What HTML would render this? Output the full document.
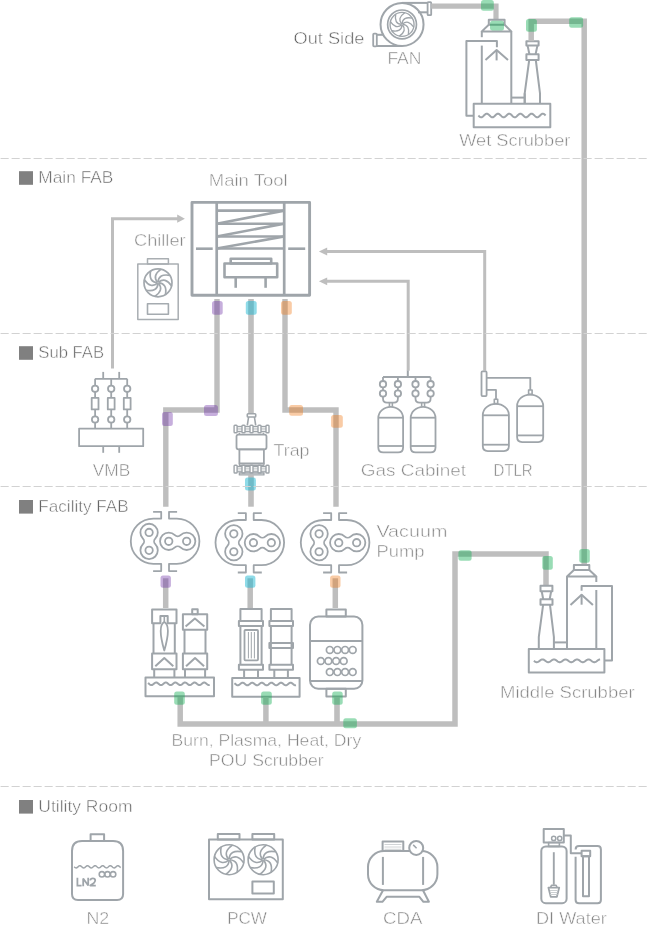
<!DOCTYPE html>
<html><head><meta charset="utf-8"><style>
html,body{margin:0;padding:0;background:#fff;}
svg{display:block;will-change:transform;}
text{font-family:"Liberation Sans", sans-serif;}
</style></head><body>
<svg width="649" height="938" viewBox="0 0 649 938">
<rect width="649" height="938" fill="#ffffff"/>
<rect x="19" y="171.2" width="14" height="13.6" fill="#808080"/>
<text x="38.3" y="183.2" font-size="17" fill="#666666" stroke="#ffffff" stroke-width="0.5" textLength="75.1" lengthAdjust="spacingAndGlyphs">Main FAB</text>
<rect x="19" y="346.2" width="14" height="13.6" fill="#808080"/>
<text x="38.3" y="358.2" font-size="17" fill="#666666" stroke="#ffffff" stroke-width="0.5" textLength="65.8" lengthAdjust="spacingAndGlyphs">Sub FAB</text>
<rect x="19" y="500" width="14" height="13.6" fill="#808080"/>
<text x="38.3" y="512" font-size="17" fill="#666666" stroke="#ffffff" stroke-width="0.5" textLength="90.4" lengthAdjust="spacingAndGlyphs">Facility FAB</text>
<rect x="19" y="800" width="14" height="13.6" fill="#808080"/>
<text x="38.3" y="812" font-size="17" fill="#666666" stroke="#ffffff" stroke-width="0.5" textLength="94.2" lengthAdjust="spacingAndGlyphs">Utility Room</text>
<text x="293.6" y="43.6" font-size="17" fill="#5e5e5e" stroke="#ffffff" stroke-width="0.5" textLength="70.8" lengthAdjust="spacingAndGlyphs">Out Side</text>
<circle cx="402.05" cy="24.4" r="21.5" fill="none" stroke="#9fa5aa" stroke-width="2"/>
<circle cx="402.05" cy="24.4" r="14.4" fill="none" stroke="#9fa5aa" stroke-width="1.7"/>
<circle cx="402.05" cy="24.4" r="12" fill="none" stroke="#9fa5aa" stroke-width="1.35"/>
<path d="M402.53,24.4 Q410.19,24.97 408.41,34.58" fill="none" stroke="#9fa5aa" stroke-width="1.35" stroke-linejoin="round"/>
<path d="M402.39,24.74 Q407.4,30.56 399.35,36.09" fill="none" stroke="#9fa5aa" stroke-width="1.35" stroke-linejoin="round"/>
<path d="M402.05,24.88 Q401.48,32.54 391.87,30.76" fill="none" stroke="#9fa5aa" stroke-width="1.35" stroke-linejoin="round"/>
<path d="M401.71,24.74 Q395.89,29.75 390.36,21.7" fill="none" stroke="#9fa5aa" stroke-width="1.35" stroke-linejoin="round"/>
<path d="M401.57,24.4 Q393.91,23.83 395.69,14.22" fill="none" stroke="#9fa5aa" stroke-width="1.35" stroke-linejoin="round"/>
<path d="M401.71,24.06 Q396.7,18.24 404.75,12.71" fill="none" stroke="#9fa5aa" stroke-width="1.35" stroke-linejoin="round"/>
<path d="M402.05,23.92 Q402.62,16.26 412.23,18.04" fill="none" stroke="#9fa5aa" stroke-width="1.35" stroke-linejoin="round"/>
<path d="M402.39,24.06 Q408.21,19.05 413.74,27.1" fill="none" stroke="#9fa5aa" stroke-width="1.35" stroke-linejoin="round"/>
<path d="M402,2.9 H428" fill="none" stroke="#9fa5aa" stroke-width="2" stroke-linejoin="round"/>
<path d="M418,12.3 H428" fill="none" stroke="#9fa5aa" stroke-width="2" stroke-linejoin="round"/>
<rect x="427.6" y="2.2" width="3.6" height="13" rx="0.8" fill="none" stroke="#9fa5aa" stroke-width="1.8" stroke-linejoin="round"/>
<path d="M376.8,46 H402" fill="none" stroke="#9fa5aa" stroke-width="2" stroke-linejoin="round"/>
<path d="M376.8,34.8 H384" fill="none" stroke="#9fa5aa" stroke-width="2" stroke-linejoin="round"/>
<rect x="373.2" y="33.6" width="3.6" height="12.8" rx="0.8" fill="none" stroke="#9fa5aa" stroke-width="1.8" stroke-linejoin="round"/>
<text x="387.4" y="63.8" font-size="17" fill="#858585" stroke="#ffffff" stroke-width="0.5" textLength="34" lengthAdjust="spacingAndGlyphs">FAN</text>
<path d="M431.2,6.2 L496,6.2 L496,19.8" fill="none" stroke="#bebebe" stroke-width="5.2" stroke-linejoin="miter" stroke-linecap="butt"/>
<rect x="488.8" y="19.7" width="15.8" height="5" rx="0" fill="none" stroke="#9fa5aa" stroke-width="2" stroke-linejoin="round"/>
<path d="M488.8,24.7 L481.8,31.4 L511.3,31.4 L504.6,24.7" fill="none" stroke="#9fa5aa" stroke-width="2" stroke-linejoin="round"/>
<line x1="481.8" y1="31.4" x2="481.8" y2="37.2" stroke="#9fa5aa" stroke-width="2"/>
<line x1="481.8" y1="45.6" x2="481.8" y2="103.8" stroke="#9fa5aa" stroke-width="2"/>
<line x1="511.3" y1="31.4" x2="511.3" y2="103.8" stroke="#9fa5aa" stroke-width="2"/>
<path d="M496.9,47.2 L496.9,41 L466.4,41 L466.4,115.7 L473.7,115.7" fill="none" stroke="#9fa5aa" stroke-width="2" stroke-linejoin="round"/>
<path d="M485.5,60 L496.6,50 L508,60" fill="none" stroke="#9fa5aa" stroke-width="2" stroke-linejoin="round"/>
<line x1="496.6" y1="50" x2="496.6" y2="60.4" stroke="#9fa5aa" stroke-width="2"/>
<rect x="473.7" y="103.8" width="76.6" height="23.4" rx="0" fill="none" stroke="#9fa5aa" stroke-width="2" stroke-linejoin="round"/>
<path d="M478.4,115.5 L478.9,116 L479.4,116.46 L479.9,116.85 L480.41,117.12 L480.91,117.28 L481.41,117.29 L481.91,117.16 L482.41,116.9 L482.91,116.53 L483.41,116.08 L483.92,115.58 L484.42,115.08 L484.92,114.61 L485.42,114.21 L485.92,113.91 L486.42,113.74 L486.93,113.7 L487.43,113.81 L487.93,114.05 L488.43,114.4 L488.93,114.84 L489.43,115.33 L489.93,115.84 L490.44,116.31 L490.94,116.73 L491.44,117.04 L491.94,117.24 L492.44,117.3 L492.94,117.22 L493.44,117 L493.95,116.66 L494.45,116.24 L494.95,115.75 L495.45,115.25 L495.95,114.76 L496.45,114.34 L496.96,114 L497.46,113.78 L497.96,113.7 L498.46,113.76 L498.96,113.96 L499.46,114.27 L499.96,114.69 L500.47,115.16 L500.97,115.67 L501.47,116.16 L501.97,116.6 L502.47,116.95 L502.97,117.19 L503.47,117.3 L503.98,117.26 L504.48,117.09 L504.98,116.79 L505.48,116.39 L505.98,115.92 L506.48,115.42 L506.99,114.92 L507.49,114.47 L507.99,114.1 L508.49,113.84 L508.99,113.71 L509.49,113.72 L509.99,113.88 L510.5,114.15 L511,114.54 L511.5,115 L512,115.5 L512.5,116 L513,116.46 L513.5,116.85 L514.01,117.12 L514.51,117.28 L515.01,117.29 L515.51,117.16 L516.01,116.9 L516.51,116.53 L517.01,116.08 L517.52,115.58 L518.02,115.08 L518.52,114.61 L519.02,114.21 L519.52,113.91 L520.02,113.74 L520.53,113.7 L521.03,113.81 L521.53,114.05 L522.03,114.4 L522.53,114.84 L523.03,115.33 L523.53,115.84 L524.04,116.31 L524.54,116.73 L525.04,117.04 L525.54,117.24 L526.04,117.3 L526.54,117.22 L527.04,117 L527.55,116.66 L528.05,116.24 L528.55,115.75 L529.05,115.25 L529.55,114.76 L530.05,114.34 L530.56,114 L531.06,113.78 L531.56,113.7 L532.06,113.76 L532.56,113.96 L533.06,114.27 L533.56,114.69 L534.07,115.16 L534.57,115.67 L535.07,116.16 L535.57,116.6 L536.07,116.95 L536.57,117.19 L537.07,117.3 L537.58,117.26 L538.08,117.09 L538.58,116.79 L539.08,116.39 L539.58,115.92 L540.08,115.42 L540.59,114.92 L541.09,114.47 L541.59,114.1 L542.09,113.84 L542.59,113.71 L543.09,113.72 L543.59,113.88 L544.1,114.15 L544.6,114.54 L545.1,115 L545.6,115.5" fill="none" stroke="#9fa5aa" stroke-width="2" stroke-linejoin="round"/>
<path d="M511.3,97.6 L524.7,97.6" fill="none" stroke="#9fa5aa" stroke-width="2" stroke-linejoin="round"/>
<line x1="524.7" y1="93.3" x2="524.7" y2="103.8" stroke="#9fa5aa" stroke-width="2"/>
<rect x="526.4" y="41.3" width="12.2" height="4.3" rx="0" fill="none" stroke="#9fa5aa" stroke-width="2" stroke-linejoin="round"/>
<line x1="527.6" y1="45.6" x2="529.4" y2="54.3" stroke="#9fa5aa" stroke-width="2"/>
<line x1="537.4" y1="45.6" x2="535.6" y2="54.3" stroke="#9fa5aa" stroke-width="2"/>
<rect x="526.4" y="54.3" width="12.2" height="5.7" rx="0" fill="none" stroke="#9fa5aa" stroke-width="2" stroke-linejoin="round"/>
<path d="M529.2,60 L524.7,93.3 L524.7,103.8" fill="none" stroke="#9fa5aa" stroke-width="2" stroke-linejoin="round"/>
<path d="M535.8,60 L540,93.3 L540,103.8" fill="none" stroke="#9fa5aa" stroke-width="2" stroke-linejoin="round"/>
<text x="459.2" y="145.6" font-size="17" fill="#858585" stroke="#ffffff" stroke-width="0.5" textLength="111.2" lengthAdjust="spacingAndGlyphs">Wet Scrubber</text>
<path d="M531.2,41.3 L531.2,21.2 L584.2,21.2 L584.2,565" fill="none" stroke="#bebebe" stroke-width="5.5" stroke-linejoin="miter" stroke-linecap="butt"/>
<rect x="481" y="0" width="12.8" height="10.8" rx="2.5" fill="#13ae54" fill-opacity="0.43"/>
<rect x="490" y="20.7" width="14" height="9.9" rx="2.5" fill="#13ae54" fill-opacity="0.43"/>
<rect x="526" y="19.1" width="10.9" height="12.7" rx="2.5" fill="#13ae54" fill-opacity="0.43"/>
<rect x="569.2" y="17.3" width="13.9" height="10.4" rx="2.5" fill="#13ae54" fill-opacity="0.43"/>
<text x="208.8" y="185.9" font-size="17" fill="#858585" stroke="#ffffff" stroke-width="0.5" textLength="78.8" lengthAdjust="spacingAndGlyphs">Main Tool</text>
<rect x="192" y="202.4" width="117.6" height="92.9" rx="0" fill="none" stroke="#9fa5aa" stroke-width="2.9" stroke-linejoin="round"/>
<line x1="216.7" y1="202.4" x2="216.7" y2="295.3" stroke="#9fa5aa" stroke-width="2.7"/>
<line x1="284.2" y1="202.4" x2="284.2" y2="295.3" stroke="#9fa5aa" stroke-width="2.7"/>
<line x1="216.7" y1="210.6" x2="284.2" y2="210.6" stroke="#9fa5aa" stroke-width="2.6"/>
<line x1="216.7" y1="223.7" x2="284.2" y2="223.7" stroke="#9fa5aa" stroke-width="2.6"/>
<line x1="216.7" y1="236.5" x2="284.2" y2="236.5" stroke="#9fa5aa" stroke-width="2.6"/>
<line x1="216.7" y1="248.5" x2="284.2" y2="248.5" stroke="#9fa5aa" stroke-width="2.6"/>
<line x1="216.7" y1="223.7" x2="284.2" y2="210.6" stroke="#9fa5aa" stroke-width="2.6"/>
<line x1="216.7" y1="236.5" x2="284.2" y2="223.7" stroke="#9fa5aa" stroke-width="2.6"/>
<line x1="216.7" y1="248.5" x2="284.2" y2="236.5" stroke="#9fa5aa" stroke-width="2.6"/>
<line x1="196" y1="248.7" x2="212.7" y2="248.7" stroke="#9fa5aa" stroke-width="2.6"/>
<line x1="288.2" y1="248.7" x2="305.2" y2="248.7" stroke="#9fa5aa" stroke-width="2.6"/>
<rect x="230.7" y="258.7" width="40.5" height="4.8" rx="0" fill="none" stroke="#9fa5aa" stroke-width="2.6" stroke-linejoin="round"/>
<rect x="224.5" y="263.5" width="52.7" height="13.7" rx="0" fill="none" stroke="#9fa5aa" stroke-width="2.6" stroke-linejoin="round"/>
<line x1="235.7" y1="277.2" x2="235.7" y2="287.8" stroke="#9fa5aa" stroke-width="2.6"/>
<line x1="265.6" y1="277.2" x2="265.6" y2="287.8" stroke="#9fa5aa" stroke-width="2.6"/>
<path d="M112.5,368.4 L112.5,218.7 L179,218.7" fill="none" stroke="#bebebe" stroke-width="3" stroke-linejoin="miter" stroke-linecap="butt"/>
<path d="M184.9,218.7 L177.2,214.6 L177.2,222.8Z" fill="#bebebe" stroke="#bebebe" stroke-width="0" stroke-linejoin="round"/>
<text x="134" y="245.7" font-size="17" fill="#858585" stroke="#ffffff" stroke-width="0.5" textLength="51.6" lengthAdjust="spacingAndGlyphs">Chiller</text>
<rect x="137.8" y="264.1" width="40.4" height="55.5" rx="0" fill="none" stroke="#a9aeb2" stroke-width="1.5" stroke-linejoin="round"/>
<rect x="147.5" y="258.8" width="20.9" height="5.3" rx="0" fill="none" stroke="#a9aeb2" stroke-width="1.5" stroke-linejoin="round"/>
<circle cx="158" cy="282.8" r="14" fill="none" stroke="#a2a8ad" stroke-width="1.7"/>
<path d="M158.56,282.8 Q167.5,283.46 165.42,294.67" fill="none" stroke="#a2a8ad" stroke-width="1.7" stroke-linejoin="round"/>
<path d="M158.4,283.2 Q164.25,289.98 154.85,296.44" fill="none" stroke="#a2a8ad" stroke-width="1.7" stroke-linejoin="round"/>
<path d="M158,283.36 Q157.34,292.3 146.13,290.22" fill="none" stroke="#a2a8ad" stroke-width="1.7" stroke-linejoin="round"/>
<path d="M157.6,283.2 Q150.82,289.05 144.36,279.65" fill="none" stroke="#a2a8ad" stroke-width="1.7" stroke-linejoin="round"/>
<path d="M157.44,282.8 Q148.5,282.14 150.58,270.93" fill="none" stroke="#a2a8ad" stroke-width="1.7" stroke-linejoin="round"/>
<path d="M157.6,282.4 Q151.75,275.62 161.15,269.16" fill="none" stroke="#a2a8ad" stroke-width="1.7" stroke-linejoin="round"/>
<path d="M158,282.24 Q158.66,273.3 169.87,275.38" fill="none" stroke="#a2a8ad" stroke-width="1.7" stroke-linejoin="round"/>
<path d="M158.4,282.4 Q165.18,276.55 171.64,285.95" fill="none" stroke="#a2a8ad" stroke-width="1.7" stroke-linejoin="round"/>
<rect x="147.5" y="303.7" width="20.9" height="10.5" rx="0" fill="none" stroke="#a5abb0" stroke-width="1.6" stroke-linejoin="round"/>
<path d="M326,251.5 L484.7,251.5 L484.7,370.7" fill="none" stroke="#bebebe" stroke-width="3" stroke-linejoin="miter" stroke-linecap="butt"/>
<path d="M318.9,251.5 L327.2,247.6 L327.2,255.4Z" fill="#bebebe" stroke="#bebebe" stroke-width="0" stroke-linejoin="round"/>
<path d="M326,281.3 L408.2,281.3 L408.2,370.7" fill="none" stroke="#bebebe" stroke-width="3" stroke-linejoin="miter" stroke-linecap="butt"/>
<path d="M318.9,281.3 L327.2,277.4 L327.2,285.2Z" fill="#bebebe" stroke="#bebebe" stroke-width="0" stroke-linejoin="round"/>
<path d="M217,299 L217,410 L165.8,410 L165.8,506.7" fill="none" stroke="#bebebe" stroke-width="5.4" stroke-linejoin="miter" stroke-linecap="butt"/>
<path d="M251,299 L251,414" fill="none" stroke="#bebebe" stroke-width="5.6" stroke-linejoin="miter" stroke-linecap="butt"/>
<path d="M285,299 L285,410 L336,410 L336,506.7" fill="none" stroke="#bebebe" stroke-width="5.4" stroke-linejoin="miter" stroke-linecap="butt"/>
<rect x="212" y="300.9" width="10.7" height="13.8" rx="2.5" fill="#692aa3" fill-opacity="0.38"/>
<rect x="245.8" y="300.9" width="10.9" height="13.8" rx="2.5" fill="#1fb7d1" fill-opacity="0.5"/>
<rect x="281" y="300.9" width="10.8" height="13.8" rx="2.5" fill="#ef7612" fill-opacity="0.38"/>
<rect x="204" y="404.9" width="13.9" height="11.1" rx="2.5" fill="#692aa3" fill-opacity="0.38"/>
<rect x="162" y="412" width="10.8" height="13.9" rx="2.5" fill="#692aa3" fill-opacity="0.38"/>
<rect x="289.2" y="405.1" width="13.8" height="10.6" rx="2.5" fill="#ef7612" fill-opacity="0.38"/>
<rect x="331.1" y="415" width="11.7" height="12.7" rx="2.5" fill="#ef7612" fill-opacity="0.38"/>
<line x1="103.2" y1="371.9" x2="103.2" y2="378.8" stroke="#9fa5aa" stroke-width="1.8"/>
<line x1="103.2" y1="446.2" x2="103.2" y2="452.8" stroke="#9fa5aa" stroke-width="1.8"/>
<line x1="119.2" y1="371.9" x2="119.2" y2="378.8" stroke="#9fa5aa" stroke-width="1.8"/>
<line x1="119.2" y1="446.2" x2="119.2" y2="452.8" stroke="#9fa5aa" stroke-width="1.8"/>
<line x1="95.1" y1="378.8" x2="127.2" y2="378.8" stroke="#9fa5aa" stroke-width="1.8"/>
<line x1="95.1" y1="378.8" x2="95.1" y2="385.6" stroke="#9fa5aa" stroke-width="1.8"/>
<circle cx="95.1" cy="388.8" r="3.2" fill="none" stroke="#9fa5aa" stroke-width="1.8"/>
<line x1="95.1" y1="392" x2="95.1" y2="397.9" stroke="#9fa5aa" stroke-width="1.8"/>
<rect x="91.7" y="397.9" width="6.8" height="11.5" rx="0" fill="none" stroke="#9fa5aa" stroke-width="1.8" stroke-linejoin="round"/>
<line x1="95.1" y1="409.4" x2="95.1" y2="416.3" stroke="#9fa5aa" stroke-width="1.8"/>
<circle cx="95.1" cy="419.5" r="3.2" fill="none" stroke="#9fa5aa" stroke-width="1.8"/>
<line x1="95.1" y1="422.7" x2="95.1" y2="428.6" stroke="#9fa5aa" stroke-width="1.8"/>
<line x1="111.2" y1="378.8" x2="111.2" y2="385.6" stroke="#9fa5aa" stroke-width="1.8"/>
<circle cx="111.2" cy="388.8" r="3.2" fill="none" stroke="#9fa5aa" stroke-width="1.8"/>
<line x1="111.2" y1="392" x2="111.2" y2="397.9" stroke="#9fa5aa" stroke-width="1.8"/>
<rect x="107.8" y="397.9" width="6.8" height="11.5" rx="0" fill="none" stroke="#9fa5aa" stroke-width="1.8" stroke-linejoin="round"/>
<line x1="111.2" y1="409.4" x2="111.2" y2="416.3" stroke="#9fa5aa" stroke-width="1.8"/>
<circle cx="111.2" cy="419.5" r="3.2" fill="none" stroke="#9fa5aa" stroke-width="1.8"/>
<line x1="111.2" y1="422.7" x2="111.2" y2="428.6" stroke="#9fa5aa" stroke-width="1.8"/>
<line x1="127.2" y1="378.8" x2="127.2" y2="385.6" stroke="#9fa5aa" stroke-width="1.8"/>
<circle cx="127.2" cy="388.8" r="3.2" fill="none" stroke="#9fa5aa" stroke-width="1.8"/>
<line x1="127.2" y1="392" x2="127.2" y2="397.9" stroke="#9fa5aa" stroke-width="1.8"/>
<rect x="123.8" y="397.9" width="6.8" height="11.5" rx="0" fill="none" stroke="#9fa5aa" stroke-width="1.8" stroke-linejoin="round"/>
<line x1="127.2" y1="409.4" x2="127.2" y2="416.3" stroke="#9fa5aa" stroke-width="1.8"/>
<circle cx="127.2" cy="419.5" r="3.2" fill="none" stroke="#9fa5aa" stroke-width="1.8"/>
<line x1="127.2" y1="422.7" x2="127.2" y2="428.6" stroke="#9fa5aa" stroke-width="1.8"/>
<rect x="79.1" y="428.6" width="64.1" height="17.6" rx="0" fill="none" stroke="#9fa5aa" stroke-width="1.8" stroke-linejoin="round"/>
<text x="92.8" y="475.5" font-size="17" fill="#858585" stroke="#ffffff" stroke-width="0.5" textLength="37.4" lengthAdjust="spacingAndGlyphs">VMB</text>
<rect x="247.3" y="413.8" width="8.4" height="3.2" rx="0.8" fill="none" stroke="#9fa5aa" stroke-width="1.6" stroke-linejoin="round"/>
<line x1="248.6" y1="417" x2="247.3" y2="425.3" stroke="#9fa5aa" stroke-width="1.6"/>
<line x1="254.4" y1="417" x2="255.7" y2="425.3" stroke="#9fa5aa" stroke-width="1.6"/>
<line x1="237.1" y1="426.5" x2="242" y2="426.5" stroke="#9fa5aa" stroke-width="1.3"/>
<line x1="237.1" y1="431.6" x2="242" y2="431.6" stroke="#9fa5aa" stroke-width="1.3"/>
<line x1="237.1" y1="428.3" x2="242" y2="428.3" stroke="#c3c7ca" stroke-width="0.9"/>
<line x1="237.1" y1="429.8" x2="242" y2="429.8" stroke="#c3c7ca" stroke-width="0.9"/>
<line x1="245" y1="426.5" x2="250" y2="426.5" stroke="#9fa5aa" stroke-width="1.3"/>
<line x1="245" y1="431.6" x2="250" y2="431.6" stroke="#9fa5aa" stroke-width="1.3"/>
<line x1="245" y1="428.3" x2="250" y2="428.3" stroke="#c3c7ca" stroke-width="0.9"/>
<line x1="245" y1="429.8" x2="250" y2="429.8" stroke="#c3c7ca" stroke-width="0.9"/>
<line x1="253" y1="426.5" x2="258" y2="426.5" stroke="#9fa5aa" stroke-width="1.3"/>
<line x1="253" y1="431.6" x2="258" y2="431.6" stroke="#9fa5aa" stroke-width="1.3"/>
<line x1="253" y1="428.3" x2="258" y2="428.3" stroke="#c3c7ca" stroke-width="0.9"/>
<line x1="253" y1="429.8" x2="258" y2="429.8" stroke="#c3c7ca" stroke-width="0.9"/>
<line x1="261" y1="426.5" x2="266" y2="426.5" stroke="#9fa5aa" stroke-width="1.3"/>
<line x1="261" y1="431.6" x2="266" y2="431.6" stroke="#9fa5aa" stroke-width="1.3"/>
<line x1="261" y1="428.3" x2="266" y2="428.3" stroke="#c3c7ca" stroke-width="0.9"/>
<line x1="261" y1="429.8" x2="266" y2="429.8" stroke="#c3c7ca" stroke-width="0.9"/>
<rect x="234.1" y="425.3" width="3" height="7.5" rx="0.8" fill="none" stroke="#9fa5aa" stroke-width="1.4" stroke-linejoin="round"/>
<rect x="242" y="425.3" width="3" height="7.5" rx="0.8" fill="none" stroke="#9fa5aa" stroke-width="1.4" stroke-linejoin="round"/>
<rect x="250" y="425.3" width="3" height="7.5" rx="0.8" fill="none" stroke="#9fa5aa" stroke-width="1.4" stroke-linejoin="round"/>
<rect x="258" y="425.3" width="3" height="7.5" rx="0.8" fill="none" stroke="#9fa5aa" stroke-width="1.4" stroke-linejoin="round"/>
<rect x="266" y="425.3" width="3" height="7.5" rx="0.8" fill="none" stroke="#9fa5aa" stroke-width="1.4" stroke-linejoin="round"/>
<line x1="239.4" y1="432.8" x2="239.4" y2="434.6" stroke="#9fa5aa" stroke-width="1.6"/>
<line x1="263.4" y1="432.8" x2="263.4" y2="434.6" stroke="#9fa5aa" stroke-width="1.6"/>
<rect x="236.5" y="434.6" width="30" height="14.7" rx="2" fill="none" stroke="#9fa5aa" stroke-width="1.8" stroke-linejoin="round"/>
<rect x="239.4" y="449.3" width="24.5" height="14.2" rx="0" fill="none" stroke="#9fa5aa" stroke-width="1.8" stroke-linejoin="round"/>
<rect x="239.4" y="463.5" width="24.5" height="1.8" rx="0" fill="none" stroke="#9fa5aa" stroke-width="1.2" stroke-linejoin="round"/>
<line x1="237.1" y1="466.5" x2="242" y2="466.5" stroke="#9fa5aa" stroke-width="1.3"/>
<line x1="237.1" y1="471.8" x2="242" y2="471.8" stroke="#9fa5aa" stroke-width="1.3"/>
<line x1="237.1" y1="468.3" x2="242" y2="468.3" stroke="#c3c7ca" stroke-width="0.9"/>
<line x1="237.1" y1="470" x2="242" y2="470" stroke="#c3c7ca" stroke-width="0.9"/>
<line x1="245" y1="466.5" x2="250" y2="466.5" stroke="#9fa5aa" stroke-width="1.3"/>
<line x1="245" y1="471.8" x2="250" y2="471.8" stroke="#9fa5aa" stroke-width="1.3"/>
<line x1="245" y1="468.3" x2="250" y2="468.3" stroke="#c3c7ca" stroke-width="0.9"/>
<line x1="245" y1="470" x2="250" y2="470" stroke="#c3c7ca" stroke-width="0.9"/>
<line x1="253" y1="466.5" x2="258" y2="466.5" stroke="#9fa5aa" stroke-width="1.3"/>
<line x1="253" y1="471.8" x2="258" y2="471.8" stroke="#9fa5aa" stroke-width="1.3"/>
<line x1="253" y1="468.3" x2="258" y2="468.3" stroke="#c3c7ca" stroke-width="0.9"/>
<line x1="253" y1="470" x2="258" y2="470" stroke="#c3c7ca" stroke-width="0.9"/>
<line x1="261" y1="466.5" x2="266" y2="466.5" stroke="#9fa5aa" stroke-width="1.3"/>
<line x1="261" y1="471.8" x2="266" y2="471.8" stroke="#9fa5aa" stroke-width="1.3"/>
<line x1="261" y1="468.3" x2="266" y2="468.3" stroke="#c3c7ca" stroke-width="0.9"/>
<line x1="261" y1="470" x2="266" y2="470" stroke="#c3c7ca" stroke-width="0.9"/>
<rect x="234.1" y="465.3" width="3" height="7.7" rx="0.8" fill="none" stroke="#9fa5aa" stroke-width="1.4" stroke-linejoin="round"/>
<rect x="242" y="465.3" width="3" height="7.7" rx="0.8" fill="none" stroke="#9fa5aa" stroke-width="1.4" stroke-linejoin="round"/>
<rect x="250" y="465.3" width="3" height="7.7" rx="0.8" fill="none" stroke="#9fa5aa" stroke-width="1.4" stroke-linejoin="round"/>
<rect x="258" y="465.3" width="3" height="7.7" rx="0.8" fill="none" stroke="#9fa5aa" stroke-width="1.4" stroke-linejoin="round"/>
<rect x="266" y="465.3" width="3" height="7.7" rx="0.8" fill="none" stroke="#9fa5aa" stroke-width="1.4" stroke-linejoin="round"/>
<rect x="239.4" y="473" width="24.5" height="1.9" rx="0" fill="none" stroke="#9fa5aa" stroke-width="1.4" stroke-linejoin="round"/>
<text x="273.5" y="455.8" font-size="17" fill="#858585" stroke="#ffffff" stroke-width="0.5" textLength="36" lengthAdjust="spacingAndGlyphs">Trap</text>
<path d="M251,475 L251,506.7" fill="none" stroke="#bebebe" stroke-width="5.6" stroke-linejoin="miter" stroke-linecap="butt"/>
<rect x="245" y="477.5" width="10.9" height="12.9" rx="2.5" fill="#1fb7d1" fill-opacity="0.5"/>
<line x1="407.8" y1="370.5" x2="407.8" y2="377.1" stroke="#9fa5aa" stroke-width="2"/>
<line x1="383" y1="377.1" x2="430.6" y2="377.1" stroke="#9fa5aa" stroke-width="2"/>
<line x1="383" y1="377.1" x2="383" y2="381" stroke="#9fa5aa" stroke-width="1.8"/>
<circle cx="383" cy="384.2" r="3.2" fill="none" stroke="#9fa5aa" stroke-width="1.8"/>
<line x1="383" y1="387.4" x2="383" y2="390.3" stroke="#9fa5aa" stroke-width="1.8"/>
<circle cx="383" cy="393.5" r="3.2" fill="none" stroke="#9fa5aa" stroke-width="1.8"/>
<line x1="397.9" y1="377.1" x2="397.9" y2="381" stroke="#9fa5aa" stroke-width="1.8"/>
<circle cx="397.9" cy="384.2" r="3.2" fill="none" stroke="#9fa5aa" stroke-width="1.8"/>
<line x1="397.9" y1="387.4" x2="397.9" y2="390.3" stroke="#9fa5aa" stroke-width="1.8"/>
<circle cx="397.9" cy="393.5" r="3.2" fill="none" stroke="#9fa5aa" stroke-width="1.8"/>
<path d="M383,396.7 V398.5 Q383,402.7 387,402.7 H393.9 Q397.9,402.7 397.9,398.5 V396.7" fill="none" stroke="#9fa5aa" stroke-width="1.8" stroke-linejoin="round"/>
<line x1="389.45" y1="402.7" x2="389.45" y2="406.8" stroke="#9fa5aa" stroke-width="1.6"/>
<line x1="392.35" y1="402.7" x2="392.35" y2="406.8" stroke="#9fa5aa" stroke-width="1.6"/>
<line x1="415.5" y1="377.1" x2="415.5" y2="381" stroke="#9fa5aa" stroke-width="1.8"/>
<circle cx="415.5" cy="384.2" r="3.2" fill="none" stroke="#9fa5aa" stroke-width="1.8"/>
<line x1="415.5" y1="387.4" x2="415.5" y2="390.3" stroke="#9fa5aa" stroke-width="1.8"/>
<circle cx="415.5" cy="393.5" r="3.2" fill="none" stroke="#9fa5aa" stroke-width="1.8"/>
<line x1="430.6" y1="377.1" x2="430.6" y2="381" stroke="#9fa5aa" stroke-width="1.8"/>
<circle cx="430.6" cy="384.2" r="3.2" fill="none" stroke="#9fa5aa" stroke-width="1.8"/>
<line x1="430.6" y1="387.4" x2="430.6" y2="390.3" stroke="#9fa5aa" stroke-width="1.8"/>
<circle cx="430.6" cy="393.5" r="3.2" fill="none" stroke="#9fa5aa" stroke-width="1.8"/>
<path d="M415.5,396.7 V398.5 Q415.5,402.7 419.5,402.7 H426.6 Q430.6,402.7 430.6,398.5 V396.7" fill="none" stroke="#9fa5aa" stroke-width="1.8" stroke-linejoin="round"/>
<line x1="421.65" y1="402.7" x2="421.65" y2="406.8" stroke="#9fa5aa" stroke-width="1.6"/>
<line x1="424.55" y1="402.7" x2="424.55" y2="406.8" stroke="#9fa5aa" stroke-width="1.6"/>
<path d="M378.3,418 A12.4,11.2 0 0 1 403.1,418 V447.4 Q403.1,452.4 398.1,452.4 H383.3 Q378.3,452.4 378.3,447.4 Z" fill="none" stroke="#9fa5aa" stroke-width="1.8" stroke-linejoin="round"/>
<line x1="378.3" y1="417.7" x2="403.1" y2="417.7" stroke="#9fa5aa" stroke-width="1.8"/>
<line x1="378.3" y1="446" x2="403.1" y2="446" stroke="#9fa5aa" stroke-width="1.8"/>
<path d="M410.7,418 A12.4,11.2 0 0 1 435.5,418 V447.4 Q435.5,452.4 430.5,452.4 H415.7 Q410.7,452.4 410.7,447.4 Z" fill="none" stroke="#9fa5aa" stroke-width="1.8" stroke-linejoin="round"/>
<line x1="410.7" y1="417.7" x2="435.5" y2="417.7" stroke="#9fa5aa" stroke-width="1.8"/>
<line x1="410.7" y1="446" x2="435.5" y2="446" stroke="#9fa5aa" stroke-width="1.8"/>
<text x="360.7" y="476.4" font-size="17" fill="#858585" stroke="#ffffff" stroke-width="0.5" textLength="105.4" lengthAdjust="spacingAndGlyphs">Gas Cabinet</text>
<rect x="481.5" y="371.4" width="5.1" height="24.7" rx="1" fill="none" stroke="#9fa5aa" stroke-width="1.8" stroke-linejoin="round"/>
<path d="M486.6,377.8 L530.3,377.8 L530.3,390" fill="none" stroke="#9fa5aa" stroke-width="1.8" stroke-linejoin="round"/>
<path d="M486.6,389.9 L496,389.9 L496,399.2" fill="none" stroke="#9fa5aa" stroke-width="1.8" stroke-linejoin="round"/>
<rect x="494.3" y="399.2" width="3.4" height="4.4" rx="0" fill="none" stroke="#9fa5aa" stroke-width="1.6" stroke-linejoin="round"/>
<path d="M482.8,415 A13.05,11.2 0 0 1 508.9,415 V446.1 Q508.9,451.1 503.9,451.1 H487.8 Q482.8,451.1 482.8,446.1 Z" fill="none" stroke="#9fa5aa" stroke-width="1.8" stroke-linejoin="round"/>
<line x1="482.8" y1="415.3" x2="508.9" y2="415.3" stroke="#9fa5aa" stroke-width="1.8"/>
<line x1="482.8" y1="444.7" x2="508.9" y2="444.7" stroke="#9fa5aa" stroke-width="1.8"/>
<rect x="528.6" y="390" width="3.5" height="4.4" rx="0" fill="none" stroke="#9fa5aa" stroke-width="1.6" stroke-linejoin="round"/>
<path d="M517.1,406 A13.05,11.4 0 0 1 543.2,406 V437.1 Q543.2,442.1 538.2,442.1 H522.1 Q517.1,442.1 517.1,437.1 Z" fill="none" stroke="#9fa5aa" stroke-width="1.8" stroke-linejoin="round"/>
<line x1="517.1" y1="406.2" x2="543.2" y2="406.2" stroke="#9fa5aa" stroke-width="1.8"/>
<line x1="517.1" y1="435.4" x2="543.2" y2="435.4" stroke="#9fa5aa" stroke-width="1.8"/>
<text x="493.6" y="476.4" font-size="17" fill="#858585" stroke="#ffffff" stroke-width="0.5" textLength="39.1" lengthAdjust="spacingAndGlyphs">DTLR</text>
<path d="M153.1,511.8 H161.2 V518.6 H153.4 A22.6,22.6 0 0 0 153.4,563.8 H161.2 V571.1 H153.1" fill="none" stroke="#9fa5aa" stroke-width="1.8" stroke-linejoin="round"/>
<path d="M177.1,511.8 H169 V518.6 H176.8 A22.6,22.6 0 0 1 176.8,563.8 H169 V571.1 H177.1" fill="none" stroke="#9fa5aa" stroke-width="1.8" stroke-linejoin="round"/>
<path d="M155.27,538.58 A8.7,8.7 0 1 0 142.93,538.58 A4,4 0 0 1 142.93,544.22 A8.7,8.7 0 1 0 155.27,544.22 A4,4 0 0 1 155.27,538.58 Z" fill="none" stroke="#9fa5aa" stroke-width="1.8" stroke-linejoin="round"/>
<circle cx="149.1" cy="532.45" r="3.7" fill="none" stroke="#9fa5aa" stroke-width="1.8"/>
<circle cx="149.1" cy="550.35" r="3.7" fill="none" stroke="#9fa5aa" stroke-width="1.8"/>
<path d="M174.88,547.47 A8.7,8.7 0 1 1 174.88,535.13 A4,4 0 0 0 180.52,535.13 A8.7,8.7 0 1 1 180.52,547.47 A4,4 0 0 0 174.88,547.47 Z" fill="none" stroke="#9fa5aa" stroke-width="1.8" stroke-linejoin="round"/>
<circle cx="168.75" cy="541.3" r="3.7" fill="none" stroke="#9fa5aa" stroke-width="1.8"/>
<circle cx="186.65" cy="541.3" r="3.7" fill="none" stroke="#9fa5aa" stroke-width="1.8"/>
<path d="M165.7,578.3 L165.7,608" fill="none" stroke="#bebebe" stroke-width="5.5" stroke-linejoin="miter" stroke-linecap="butt"/>
<rect x="160.5" y="575.5" width="10.4" height="12.3" rx="2.5" fill="#692aa3" fill-opacity="0.38"/>
<path d="M237.8,513.2 H245.9 V520 H238.1 A22.6,22.6 0 0 0 238.1,565.2 H245.9 V572.5 H237.8" fill="none" stroke="#9fa5aa" stroke-width="1.8" stroke-linejoin="round"/>
<path d="M261.8,513.2 H253.7 V520 H261.5 A22.6,22.6 0 0 1 261.5,565.2 H253.7 V572.5 H261.8" fill="none" stroke="#9fa5aa" stroke-width="1.8" stroke-linejoin="round"/>
<path d="M239.97,539.98 A8.7,8.7 0 1 0 227.63,539.98 A4,4 0 0 1 227.63,545.62 A8.7,8.7 0 1 0 239.97,545.62 A4,4 0 0 1 239.97,539.98 Z" fill="none" stroke="#9fa5aa" stroke-width="1.8" stroke-linejoin="round"/>
<circle cx="233.8" cy="533.85" r="3.7" fill="none" stroke="#9fa5aa" stroke-width="1.8"/>
<circle cx="233.8" cy="551.75" r="3.7" fill="none" stroke="#9fa5aa" stroke-width="1.8"/>
<path d="M259.58,548.87 A8.7,8.7 0 1 1 259.58,536.53 A4,4 0 0 0 265.22,536.53 A8.7,8.7 0 1 1 265.22,548.87 A4,4 0 0 0 259.58,548.87 Z" fill="none" stroke="#9fa5aa" stroke-width="1.8" stroke-linejoin="round"/>
<circle cx="253.45" cy="542.7" r="3.7" fill="none" stroke="#9fa5aa" stroke-width="1.8"/>
<circle cx="271.35" cy="542.7" r="3.7" fill="none" stroke="#9fa5aa" stroke-width="1.8"/>
<path d="M250.2,578.3 L250.2,608" fill="none" stroke="#bebebe" stroke-width="5.5" stroke-linejoin="miter" stroke-linecap="butt"/>
<rect x="245" y="575.5" width="10.4" height="12.3" rx="2.5" fill="#1fb7d1" fill-opacity="0.5"/>
<path d="M323.1,513.2 H331.2 V520 H323.4 A22.6,22.6 0 0 0 323.4,565.2 H331.2 V572.5 H323.1" fill="none" stroke="#9fa5aa" stroke-width="1.8" stroke-linejoin="round"/>
<path d="M347.1,513.2 H339 V520 H346.8 A22.6,22.6 0 0 1 346.8,565.2 H339 V572.5 H347.1" fill="none" stroke="#9fa5aa" stroke-width="1.8" stroke-linejoin="round"/>
<path d="M325.27,539.98 A8.7,8.7 0 1 0 312.93,539.98 A4,4 0 0 1 312.93,545.62 A8.7,8.7 0 1 0 325.27,545.62 A4,4 0 0 1 325.27,539.98 Z" fill="none" stroke="#9fa5aa" stroke-width="1.8" stroke-linejoin="round"/>
<circle cx="319.1" cy="533.85" r="3.7" fill="none" stroke="#9fa5aa" stroke-width="1.8"/>
<circle cx="319.1" cy="551.75" r="3.7" fill="none" stroke="#9fa5aa" stroke-width="1.8"/>
<path d="M344.88,548.87 A8.7,8.7 0 1 1 344.88,536.53 A4,4 0 0 0 350.52,536.53 A8.7,8.7 0 1 1 350.52,548.87 A4,4 0 0 0 344.88,548.87 Z" fill="none" stroke="#9fa5aa" stroke-width="1.8" stroke-linejoin="round"/>
<circle cx="338.75" cy="542.7" r="3.7" fill="none" stroke="#9fa5aa" stroke-width="1.8"/>
<circle cx="356.65" cy="542.7" r="3.7" fill="none" stroke="#9fa5aa" stroke-width="1.8"/>
<path d="M335.3,578.3 L335.3,608" fill="none" stroke="#bebebe" stroke-width="5.5" stroke-linejoin="miter" stroke-linecap="butt"/>
<rect x="330.1" y="575.5" width="10.4" height="12.3" rx="2.5" fill="#ef7612" fill-opacity="0.38"/>
<text x="376.4" y="536.9" font-size="17" fill="#858585" stroke="#ffffff" stroke-width="0.5" textLength="71" lengthAdjust="spacingAndGlyphs">Vacuum</text>
<text x="376.4" y="556.6" font-size="17" fill="#858585" stroke="#ffffff" stroke-width="0.5" textLength="48.1" lengthAdjust="spacingAndGlyphs">Pump</text>
<path d="M152.1,623.2 V609.4 H176.5 V623.2 H167.7 V616 H160.4 V623.2 Z" fill="none" stroke="#9fa5aa" stroke-width="2" stroke-linejoin="round"/>
<line x1="153.5" y1="623.2" x2="153.5" y2="653.6" stroke="#9fa5aa" stroke-width="2"/>
<line x1="174.8" y1="623.2" x2="174.8" y2="653.6" stroke="#9fa5aa" stroke-width="2"/>
<line x1="164.3" y1="616" x2="164.3" y2="622.5" stroke="#9fa5aa" stroke-width="1.6"/>
<path d="M164.3,622 C169,624.5 169.4,633 164.3,650.5 C159.2,633 159.6,624.5 164.3,622 Z" fill="none" stroke="#9fa5aa" stroke-width="1.8" stroke-linejoin="round"/>
<rect x="152.1" y="653.6" width="24.4" height="15.7" rx="0" fill="none" stroke="#9fa5aa" stroke-width="2" stroke-linejoin="round"/>
<path d="M155.3,666.2 L164.3,658 L173.3,666.2" fill="none" stroke="#9fa5aa" stroke-width="2" stroke-linejoin="round"/>
<line x1="154.2" y1="669.3" x2="154.2" y2="677.4" stroke="#9fa5aa" stroke-width="2"/>
<line x1="174.4" y1="669.3" x2="174.4" y2="677.4" stroke="#9fa5aa" stroke-width="2"/>
<rect x="182.9" y="653.6" width="24.3" height="15.7" rx="0" fill="none" stroke="#9fa5aa" stroke-width="2" stroke-linejoin="round"/>
<path d="M186.05,666.2 L195.05,658 L204.05,666.2" fill="none" stroke="#9fa5aa" stroke-width="2" stroke-linejoin="round"/>
<line x1="185" y1="669.3" x2="185" y2="677.4" stroke="#9fa5aa" stroke-width="2"/>
<line x1="205.1" y1="669.3" x2="205.1" y2="677.4" stroke="#9fa5aa" stroke-width="2"/>
<rect x="192.2" y="609.3" width="5.5" height="4.9" rx="0" fill="none" stroke="#9fa5aa" stroke-width="2" stroke-linejoin="round"/>
<rect x="182.9" y="614.2" width="24.3" height="15.6" rx="0" fill="none" stroke="#9fa5aa" stroke-width="2" stroke-linejoin="round"/>
<path d="M185.6,626.5 L194.9,618.5 L204.4,626.5" fill="none" stroke="#9fa5aa" stroke-width="2" stroke-linejoin="round"/>
<line x1="184.5" y1="629.8" x2="184.5" y2="653.6" stroke="#9fa5aa" stroke-width="2"/>
<line x1="205.5" y1="629.8" x2="205.5" y2="653.6" stroke="#9fa5aa" stroke-width="2"/>
<rect x="145.5" y="677.4" width="68.5" height="18.8" rx="0" fill="none" stroke="#9fa5aa" stroke-width="2" stroke-linejoin="round"/>
<path d="M148,683.01 L148.5,683.38 L149,683.8 L149.5,684.22 L150.01,684.6 L150.51,684.88 L151.01,685.06 L151.51,685.1 L152.01,685 L152.51,684.77 L153.02,684.44 L153.52,684.04 L154.02,683.61 L154.52,683.21 L155.02,682.87 L155.52,682.63 L156.03,682.51 L156.53,682.53 L157.03,682.69 L157.53,682.96 L158.03,683.33 L158.53,683.74 L159.04,684.17 L159.54,684.55 L160.04,684.85 L160.54,685.04 L161.04,685.1 L161.54,685.02 L162.05,684.81 L162.55,684.49 L163.05,684.1 L163.55,683.67 L164.05,683.26 L164.55,682.91 L165.06,682.65 L165.56,682.52 L166.06,682.52 L166.56,682.66 L167.06,682.92 L167.56,683.27 L168.07,683.69 L168.57,684.11 L169.07,684.5 L169.57,684.82 L170.07,685.02 L170.57,685.1 L171.07,685.04 L171.58,684.84 L172.08,684.54 L172.58,684.15 L173.08,683.73 L173.58,683.32 L174.08,682.95 L174.59,682.68 L175.09,682.53 L175.59,682.51 L176.09,682.63 L176.59,682.88 L177.09,683.22 L177.6,683.63 L178.1,684.05 L178.6,684.45 L179.1,684.78 L179.6,685 L180.1,685.1 L180.61,685.05 L181.11,684.88 L181.61,684.59 L182.11,684.21 L182.61,683.79 L183.11,683.37 L183.62,683 L184.12,682.71 L184.62,682.54 L185.12,682.5 L185.62,682.61 L186.12,682.84 L186.63,683.17 L187.13,683.57 L187.63,683.99 L188.13,684.4 L188.63,684.74 L189.13,684.98 L189.63,685.09 L190.14,685.07 L190.64,684.91 L191.14,684.63 L191.64,684.26 L192.14,683.85 L192.64,683.43 L193.15,683.05 L193.65,682.74 L194.15,682.56 L194.65,682.5 L195.15,682.58 L195.65,682.8 L196.16,683.12 L196.66,683.51 L197.16,683.94 L197.66,684.35 L198.16,684.7 L198.66,684.95 L199.17,685.08 L199.67,685.08 L200.17,684.94 L200.67,684.68 L201.17,684.32 L201.67,683.91 L202.18,683.48 L202.68,683.09 L203.18,682.78 L203.68,682.57 L204.18,682.5 L204.68,682.56 L205.19,682.76 L205.69,683.07 L206.19,683.45 L206.69,683.88 L207.19,684.29 L207.69,684.65 L208.2,684.92 L208.7,685.07 L209.2,685.09 L209.7,684.97" fill="none" stroke="#9fa5aa" stroke-width="2" stroke-linejoin="round"/>
<rect x="240.4" y="608.9" width="21.2" height="12.1" rx="0" fill="none" stroke="#9fa5aa" stroke-width="2" stroke-linejoin="round"/>
<rect x="238.9" y="621" width="24.1" height="4.9" rx="0" fill="none" stroke="#9fa5aa" stroke-width="2" stroke-linejoin="round"/>
<line x1="240.4" y1="625.9" x2="240.4" y2="664.7" stroke="#9fa5aa" stroke-width="2"/>
<line x1="261.6" y1="625.9" x2="261.6" y2="664.7" stroke="#9fa5aa" stroke-width="2"/>
<rect x="238.9" y="664.7" width="24.1" height="5" rx="0" fill="none" stroke="#9fa5aa" stroke-width="2" stroke-linejoin="round"/>
<rect x="244.5" y="630" width="13.5" height="30.4" rx="0.8" fill="none" stroke="#9fa5aa" stroke-width="1.8" stroke-linejoin="round"/>
<line x1="248.4" y1="632" x2="248.4" y2="658.4" stroke="#9fa5aa" stroke-width="1"/>
<line x1="251.3" y1="632" x2="251.3" y2="658.4" stroke="#9fa5aa" stroke-width="1"/>
<line x1="254.4" y1="632" x2="254.4" y2="658.4" stroke="#9fa5aa" stroke-width="1"/>
<line x1="244.1" y1="669.7" x2="244.1" y2="677.9" stroke="#9fa5aa" stroke-width="2"/>
<line x1="258" y1="669.7" x2="258" y2="677.9" stroke="#9fa5aa" stroke-width="2"/>
<rect x="270.9" y="608.9" width="20.7" height="12.1" rx="0" fill="none" stroke="#9fa5aa" stroke-width="2" stroke-linejoin="round"/>
<rect x="269.4" y="621" width="23.6" height="4.9" rx="0" fill="none" stroke="#9fa5aa" stroke-width="2" stroke-linejoin="round"/>
<line x1="270.9" y1="625.9" x2="270.9" y2="664.7" stroke="#9fa5aa" stroke-width="2"/>
<line x1="291.6" y1="625.9" x2="291.6" y2="664.7" stroke="#9fa5aa" stroke-width="2"/>
<rect x="269.4" y="664.7" width="23.6" height="5" rx="0" fill="none" stroke="#9fa5aa" stroke-width="2" stroke-linejoin="round"/>
<rect x="269.4" y="642.9" width="23.6" height="5.2" rx="0" fill="none" stroke="#9fa5aa" stroke-width="2" stroke-linejoin="round"/>
<line x1="274.3" y1="669.7" x2="274.3" y2="677.9" stroke="#9fa5aa" stroke-width="2"/>
<line x1="287.9" y1="669.7" x2="287.9" y2="677.9" stroke="#9fa5aa" stroke-width="2"/>
<rect x="232.2" y="677.9" width="67.4" height="18.9" rx="0" fill="none" stroke="#9fa5aa" stroke-width="2" stroke-linejoin="round"/>
<path d="M234.4,683.21 L234.9,683.58 L235.4,684 L235.9,684.42 L236.4,684.79 L236.9,685.08 L237.4,685.26 L237.91,685.3 L238.41,685.2 L238.91,684.97 L239.41,684.64 L239.91,684.25 L240.41,683.82 L240.91,683.42 L241.41,683.07 L241.91,682.83 L242.41,682.71 L242.91,682.73 L243.41,682.88 L243.92,683.15 L244.42,683.52 L244.92,683.93 L245.42,684.35 L245.92,684.74 L246.42,685.04 L246.92,685.24 L247.42,685.3 L247.92,685.22 L248.42,685.02 L248.92,684.71 L249.42,684.32 L249.93,683.89 L250.43,683.48 L250.93,683.13 L251.43,682.86 L251.93,682.72 L252.43,682.71 L252.93,682.85 L253.43,683.1 L253.93,683.45 L254.43,683.86 L254.93,684.28 L255.43,684.67 L255.93,685 L256.44,685.21 L256.94,685.3 L257.44,685.25 L257.94,685.06 L258.44,684.76 L258.94,684.39 L259.44,683.97 L259.94,683.55 L260.44,683.18 L260.94,682.9 L261.44,682.74 L261.94,682.71 L262.45,682.81 L262.95,683.05 L263.45,683.39 L263.95,683.79 L264.45,684.21 L264.95,684.61 L265.45,684.95 L265.95,685.18 L266.45,685.29 L266.95,685.27 L267.45,685.1 L267.95,684.82 L268.46,684.45 L268.96,684.04 L269.46,683.62 L269.96,683.24 L270.46,682.94 L270.96,682.75 L271.46,682.7 L271.96,682.79 L272.46,683 L272.96,683.32 L273.46,683.72 L273.96,684.14 L274.47,684.55 L274.97,684.9 L275.47,685.15 L275.97,685.28 L276.47,685.28 L276.97,685.14 L277.47,684.88 L277.97,684.52 L278.47,684.11 L278.97,683.69 L279.47,683.3 L279.97,682.98 L280.47,682.78 L280.98,682.7 L281.48,682.76 L281.98,682.96 L282.48,683.26 L282.98,683.65 L283.48,684.07 L283.98,684.48 L284.48,684.85 L284.98,685.12 L285.48,685.27 L285.98,685.29 L286.48,685.17 L286.99,684.93 L287.49,684.59 L287.99,684.18 L288.49,683.76 L288.99,683.36 L289.49,683.03 L289.99,682.8 L290.49,682.7 L290.99,682.74 L291.49,682.92 L291.99,683.2 L292.49,683.58 L293,684 L293.5,684.41 L294,684.79 L294.5,685.08 L295,685.26 L295.5,685.3 L296,685.2" fill="none" stroke="#9fa5aa" stroke-width="2" stroke-linejoin="round"/>
<rect x="326.4" y="609.4" width="19.4" height="7.2" rx="0" fill="none" stroke="#9fa5aa" stroke-width="2" stroke-linejoin="round"/>
<rect x="310" y="616.6" width="52.4" height="72.2" rx="8.3" fill="none" stroke="#9fa5aa" stroke-width="2" stroke-linejoin="round"/>
<line x1="310" y1="640.9" x2="362.4" y2="640.9" stroke="#9fa5aa" stroke-width="2"/>
<line x1="310" y1="681.1" x2="362.4" y2="681.1" stroke="#9fa5aa" stroke-width="2"/>
<circle cx="329.8" cy="649.9" r="3.4" fill="none" stroke="#9fa5aa" stroke-width="1.7"/>
<circle cx="337.4" cy="649.9" r="3.4" fill="none" stroke="#9fa5aa" stroke-width="1.7"/>
<circle cx="345.1" cy="649.9" r="3.4" fill="none" stroke="#9fa5aa" stroke-width="1.7"/>
<circle cx="352.7" cy="649.9" r="3.4" fill="none" stroke="#9fa5aa" stroke-width="1.7"/>
<circle cx="320.8" cy="661" r="3.4" fill="none" stroke="#9fa5aa" stroke-width="1.7"/>
<circle cx="328.4" cy="661" r="3.4" fill="none" stroke="#9fa5aa" stroke-width="1.7"/>
<circle cx="336.1" cy="661" r="3.4" fill="none" stroke="#9fa5aa" stroke-width="1.7"/>
<circle cx="343.7" cy="661" r="3.4" fill="none" stroke="#9fa5aa" stroke-width="1.7"/>
<circle cx="329.8" cy="672.1" r="3.4" fill="none" stroke="#9fa5aa" stroke-width="1.7"/>
<circle cx="337.4" cy="672.1" r="3.4" fill="none" stroke="#9fa5aa" stroke-width="1.7"/>
<circle cx="345.1" cy="672.1" r="3.4" fill="none" stroke="#9fa5aa" stroke-width="1.7"/>
<circle cx="352.7" cy="672.1" r="3.4" fill="none" stroke="#9fa5aa" stroke-width="1.7"/>
<rect x="326.4" y="688.8" width="19.4" height="7.6" rx="0" fill="none" stroke="#9fa5aa" stroke-width="2" stroke-linejoin="round"/>
<text x="171.5" y="746" font-size="17" fill="#858585" stroke="#ffffff" stroke-width="0.5" textLength="189.7" lengthAdjust="spacingAndGlyphs">Burn, Plasma, Heat, Dry</text>
<text x="209.1" y="765.7" font-size="17" fill="#858585" stroke="#ffffff" stroke-width="0.5" textLength="114.5" lengthAdjust="spacingAndGlyphs">POU Scrubber</text>
<path d="M180.2,697 L180.2,724 L455,724 L455,553.9 L546,553.9 L546,585.8" fill="none" stroke="#bebebe" stroke-width="5.5" stroke-linejoin="miter" stroke-linecap="butt"/>
<path d="M265.9,697 L265.9,724" fill="none" stroke="#bebebe" stroke-width="5.5" stroke-linejoin="miter" stroke-linecap="butt"/>
<path d="M337,697 L337,724" fill="none" stroke="#bebebe" stroke-width="5.6" stroke-linejoin="miter" stroke-linecap="butt"/>
<rect x="174.2" y="691.5" width="10.6" height="13.3" rx="2.5" fill="#13ae54" fill-opacity="0.43"/>
<rect x="261.1" y="691.5" width="10.7" height="13.3" rx="2.5" fill="#13ae54" fill-opacity="0.43"/>
<rect x="332.2" y="691.5" width="10.5" height="13.2" rx="2.5" fill="#13ae54" fill-opacity="0.43"/>
<rect x="343.3" y="718.2" width="13.6" height="10.1" rx="2.5" fill="#13ae54" fill-opacity="0.43"/>
<rect x="458.4" y="550.2" width="13.2" height="10.5" rx="2.5" fill="#13ae54" fill-opacity="0.43"/>
<rect x="542.3" y="555.9" width="10.5" height="13.8" rx="2.5" fill="#13ae54" fill-opacity="0.43"/>
<rect x="579.3" y="548.9" width="10.5" height="13.9" rx="2.5" fill="#13ae54" fill-opacity="0.43"/>
<rect x="540.5" y="585.8" width="11.9" height="5.4" rx="0" fill="none" stroke="#9fa5aa" stroke-width="2" stroke-linejoin="round"/>
<line x1="541.7" y1="591.2" x2="543.2" y2="599.3" stroke="#9fa5aa" stroke-width="2"/>
<line x1="551.2" y1="591.2" x2="549.7" y2="599.3" stroke="#9fa5aa" stroke-width="2"/>
<rect x="540.5" y="599.3" width="12" height="5.5" rx="0" fill="none" stroke="#9fa5aa" stroke-width="2" stroke-linejoin="round"/>
<path d="M543.1,604.8 L538.8,637 L538.8,649" fill="none" stroke="#9fa5aa" stroke-width="2" stroke-linejoin="round"/>
<path d="M550,604.8 L553.9,637 L553.9,649" fill="none" stroke="#9fa5aa" stroke-width="2" stroke-linejoin="round"/>
<line x1="553.9" y1="642.4" x2="567" y2="642.4" stroke="#9fa5aa" stroke-width="2"/>
<rect x="573.9" y="565.1" width="15.4" height="4.9" rx="0" fill="none" stroke="#9fa5aa" stroke-width="2" stroke-linejoin="round"/>
<path d="M573.9,570 L567,576.5 L596.3,576.5 L589.3,570" fill="none" stroke="#9fa5aa" stroke-width="2" stroke-linejoin="round"/>
<line x1="567" y1="576.5" x2="567" y2="649" stroke="#9fa5aa" stroke-width="2"/>
<line x1="596.3" y1="576.5" x2="596.3" y2="582" stroke="#9fa5aa" stroke-width="2"/>
<line x1="596.3" y1="590" x2="596.3" y2="649" stroke="#9fa5aa" stroke-width="2"/>
<path d="M581.6,590.8 L581.6,585.9 L612,585.9 L612,660.4 L604.4,660.4" fill="none" stroke="#9fa5aa" stroke-width="2" stroke-linejoin="round"/>
<path d="M570.5,605 L581.6,594.7 L592.9,605" fill="none" stroke="#9fa5aa" stroke-width="2" stroke-linejoin="round"/>
<line x1="581.6" y1="594.7" x2="581.6" y2="604.7" stroke="#9fa5aa" stroke-width="2"/>
<rect x="528.8" y="649" width="75.6" height="23.4" rx="0" fill="none" stroke="#9fa5aa" stroke-width="2" stroke-linejoin="round"/>
<path d="M533.9,660.8 L534.4,661.18 L534.9,661.53 L535.4,661.83 L535.91,662.05 L536.41,662.17 L536.91,662.2 L537.41,662.12 L537.91,661.94 L538.41,661.68 L538.92,661.35 L539.42,660.98 L539.92,660.6 L540.42,660.23 L540.92,659.9 L541.42,659.65 L541.92,659.47 L542.43,659.4 L542.93,659.43 L543.43,659.57 L543.93,659.79 L544.43,660.09 L544.93,660.45 L545.43,660.83 L545.94,661.2 L546.44,661.55 L546.94,661.84 L547.44,662.06 L547.94,662.18 L548.44,662.19 L548.95,662.11 L549.45,661.92 L549.95,661.65 L550.45,661.32 L550.95,660.95 L551.45,660.57 L551.95,660.2 L552.46,659.88 L552.96,659.63 L553.46,659.47 L553.96,659.4 L554.46,659.44 L554.96,659.58 L555.47,659.81 L555.97,660.12 L556.47,660.47 L556.97,660.85 L557.47,661.23 L557.97,661.57 L558.47,661.86 L558.98,662.07 L559.48,662.18 L559.98,662.19 L560.48,662.1 L560.98,661.91 L561.48,661.63 L561.98,661.3 L562.49,660.93 L562.99,660.54 L563.49,660.18 L563.99,659.86 L564.49,659.62 L564.99,659.46 L565.5,659.4 L566,659.45 L566.5,659.59 L567,659.83 L567.5,660.14 L568,660.5 L568.5,660.88 L569.01,661.26 L569.51,661.6 L570.01,661.88 L570.51,662.08 L571.01,662.19 L571.51,662.19 L572.02,662.09 L572.52,661.89 L573.02,661.61 L573.52,661.27 L574.02,660.9 L574.52,660.52 L575.02,660.16 L575.53,659.84 L576.03,659.6 L576.53,659.45 L577.03,659.4 L577.53,659.45 L578.03,659.61 L578.53,659.85 L579.04,660.16 L579.54,660.52 L580.04,660.91 L580.54,661.28 L581.04,661.62 L581.54,661.9 L582.05,662.09 L582.55,662.19 L583.05,662.18 L583.55,662.08 L584.05,661.87 L584.55,661.59 L585.05,661.25 L585.56,660.87 L586.06,660.49 L586.56,660.13 L587.06,659.82 L587.56,659.59 L588.06,659.44 L588.57,659.4 L589.07,659.46 L589.57,659.62 L590.07,659.87 L590.57,660.19 L591.07,660.55 L591.57,660.93 L592.08,661.31 L592.58,661.64 L593.08,661.91 L593.58,662.1 L594.08,662.19 L594.58,662.18 L595.08,662.07 L595.59,661.86 L596.09,661.57 L596.59,661.22 L597.09,660.85 L597.59,660.46 L598.09,660.11 L598.6,659.81 L599.1,659.58 L599.6,659.44 L600.1,659.4" fill="none" stroke="#9fa5aa" stroke-width="2" stroke-linejoin="round"/>
<text x="500" y="698.1" font-size="17" fill="#858585" stroke="#ffffff" stroke-width="0.5" textLength="134.6" lengthAdjust="spacingAndGlyphs">Middle Scrubber</text>
<rect x="90.6" y="834.2" width="13.5" height="6.8" rx="0" fill="none" stroke="#9fa5aa" stroke-width="2" stroke-linejoin="round"/>
<path d="M72,851 Q72,841 82,841 H113.1 Q123.1,841 123.1,851 V894 Q123.1,900 117.1,900 H78 Q72,900 72,894 Z" fill="none" stroke="#9fa5aa" stroke-width="2" stroke-linejoin="round"/>
<path d="M74.2,866.8 L74.7,867.24 L75.2,867.61 L75.7,867.84 L76.2,867.9 L76.7,867.77 L77.2,867.48 L77.7,867.07 L78.2,866.62 L78.7,866.2 L79.2,865.88 L79.7,865.72 L80.2,865.73 L80.7,865.93 L81.2,866.28 L81.7,866.71 L82.2,867.16 L82.7,867.55 L83.2,867.81 L83.7,867.9 L84.2,867.81 L84.7,867.55 L85.2,867.16 L85.7,866.71 L86.2,866.28 L86.7,865.93 L87.2,865.73 L87.7,865.72 L88.2,865.88 L88.7,866.2 L89.2,866.62 L89.7,867.07 L90.2,867.48 L90.7,867.77 L91.2,867.9 L91.7,867.84 L92.2,867.61 L92.7,867.24 L93.2,866.8 L93.7,866.36 L94.2,865.99 L94.7,865.76 L95.2,865.7 L95.7,865.83 L96.2,866.12 L96.7,866.53 L97.2,866.98 L97.7,867.4 L98.2,867.72 L98.7,867.88 L99.2,867.87 L99.7,867.67 L100.2,867.32 L100.7,866.89 L101.2,866.44 L101.7,866.05 L102.2,865.79 L102.7,865.7 L103.2,865.79 L103.7,866.05 L104.2,866.44 L104.7,866.89 L105.2,867.32 L105.7,867.67 L106.2,867.87 L106.7,867.88 L107.2,867.72 L107.7,867.4 L108.2,866.98 L108.7,866.53 L109.2,866.12 L109.7,865.83 L110.2,865.7 L110.7,865.76 L111.2,865.99 L111.7,866.36 L112.2,866.8 L112.7,867.24 L113.2,867.61 L113.7,867.84 L114.2,867.9 L114.7,867.77 L115.2,867.48 L115.7,867.07 L116.2,866.62 L116.7,866.2 L117.2,865.88 L117.7,865.72 L118.2,865.73 L118.7,865.93 L119.2,866.28 L119.7,866.71 L120.2,867.16 L120.7,867.55" fill="none" stroke="#9fa5aa" stroke-width="1.5" stroke-linejoin="round"/>
<circle cx="101.9" cy="874.3" r="2.7" fill="none" stroke="#9fa5aa" stroke-width="1.6"/>
<circle cx="107.5" cy="874.3" r="2.7" fill="none" stroke="#9fa5aa" stroke-width="1.6"/>
<circle cx="113.1" cy="874.3" r="2.7" fill="none" stroke="#9fa5aa" stroke-width="1.6"/>
<path d="M77.4,877.8 V885.6 H81.6" fill="none" stroke="#9fa5aa" stroke-width="1.8" stroke-linejoin="miter"/>
<path d="M83.2,886.2 V878.4 L88.2,885.6 V877.8" fill="none" stroke="#9fa5aa" stroke-width="1.8" stroke-linejoin="bevel"/>
<path d="M90.2,880.4 Q90.6,878.3 92.8,878.3 Q95.2,878.3 95.2,880.6 Q95.2,881.8 93.6,883.2 L90.2,885.6 H95.8" fill="none" stroke="#9fa5aa" stroke-width="1.8" stroke-linejoin="round"/>
<text x="86.5" y="923.9" font-size="17" fill="#858585" stroke="#ffffff" stroke-width="0.5" textLength="22.7" lengthAdjust="spacingAndGlyphs">N2</text>
<rect x="217.8" y="834" width="21.7" height="5.6" rx="0" fill="none" stroke="#9fa5aa" stroke-width="2" stroke-linejoin="round"/>
<rect x="252.4" y="834" width="21.8" height="5.6" rx="0" fill="none" stroke="#9fa5aa" stroke-width="2" stroke-linejoin="round"/>
<rect x="209" y="839.6" width="73.8" height="59.6" rx="0" fill="none" stroke="#9fa5aa" stroke-width="2" stroke-linejoin="round"/>
<circle cx="229.1" cy="859.7" r="15" fill="none" stroke="#9fa5aa" stroke-width="1.6"/>
<path d="M229.7,859.7 Q239.28,860.41 237.05,872.42" fill="none" stroke="#9fa5aa" stroke-width="1.6" stroke-linejoin="round"/>
<path d="M229.52,860.12 Q235.79,867.4 225.73,874.32" fill="none" stroke="#9fa5aa" stroke-width="1.6" stroke-linejoin="round"/>
<path d="M229.1,860.3 Q228.39,869.88 216.38,867.65" fill="none" stroke="#9fa5aa" stroke-width="1.6" stroke-linejoin="round"/>
<path d="M228.68,860.12 Q221.4,866.39 214.48,856.33" fill="none" stroke="#9fa5aa" stroke-width="1.6" stroke-linejoin="round"/>
<path d="M228.5,859.7 Q218.92,858.99 221.15,846.98" fill="none" stroke="#9fa5aa" stroke-width="1.6" stroke-linejoin="round"/>
<path d="M228.68,859.28 Q222.41,852 232.47,845.08" fill="none" stroke="#9fa5aa" stroke-width="1.6" stroke-linejoin="round"/>
<path d="M229.1,859.1 Q229.81,849.52 241.82,851.75" fill="none" stroke="#9fa5aa" stroke-width="1.6" stroke-linejoin="round"/>
<path d="M229.52,859.28 Q236.8,853.01 243.72,863.07" fill="none" stroke="#9fa5aa" stroke-width="1.6" stroke-linejoin="round"/>
<circle cx="263.1" cy="859.7" r="15" fill="none" stroke="#9fa5aa" stroke-width="1.6"/>
<path d="M263.7,859.7 Q273.28,860.41 271.05,872.42" fill="none" stroke="#9fa5aa" stroke-width="1.6" stroke-linejoin="round"/>
<path d="M263.52,860.12 Q269.79,867.4 259.73,874.32" fill="none" stroke="#9fa5aa" stroke-width="1.6" stroke-linejoin="round"/>
<path d="M263.1,860.3 Q262.39,869.88 250.38,867.65" fill="none" stroke="#9fa5aa" stroke-width="1.6" stroke-linejoin="round"/>
<path d="M262.68,860.12 Q255.4,866.39 248.48,856.33" fill="none" stroke="#9fa5aa" stroke-width="1.6" stroke-linejoin="round"/>
<path d="M262.5,859.7 Q252.92,858.99 255.15,846.98" fill="none" stroke="#9fa5aa" stroke-width="1.6" stroke-linejoin="round"/>
<path d="M262.68,859.28 Q256.41,852 266.47,845.08" fill="none" stroke="#9fa5aa" stroke-width="1.6" stroke-linejoin="round"/>
<path d="M263.1,859.1 Q263.81,849.52 275.82,851.75" fill="none" stroke="#9fa5aa" stroke-width="1.6" stroke-linejoin="round"/>
<path d="M263.52,859.28 Q270.8,853.01 277.72,863.07" fill="none" stroke="#9fa5aa" stroke-width="1.6" stroke-linejoin="round"/>
<rect x="252.4" y="881.6" width="21.4" height="11.8" rx="0" fill="none" stroke="#9fa5aa" stroke-width="2" stroke-linejoin="round"/>
<text x="227.2" y="923.5" font-size="17" fill="#858585" stroke="#ffffff" stroke-width="0.5" textLength="39.7" lengthAdjust="spacingAndGlyphs">PCW</text>
<rect x="382.6" y="841.4" width="20.7" height="9.7" rx="0" fill="none" stroke="#9fa5aa" stroke-width="2" stroke-linejoin="round"/>
<line x1="384.5" y1="844.5" x2="401.4" y2="844.5" stroke="#c5c9cc" stroke-width="0.8"/>
<line x1="384.5" y1="847" x2="401.4" y2="847" stroke="#c5c9cc" stroke-width="0.8"/>
<line x1="384.5" y1="849.3" x2="401.4" y2="849.3" stroke="#c5c9cc" stroke-width="0.8"/>
<rect x="368" y="851.1" width="69.4" height="39.1" rx="16" fill="none" stroke="#9fa5aa" stroke-width="2" stroke-linejoin="round"/>
<circle cx="416.2" cy="847.9" r="7" fill="#ffffff" stroke="#9fa5aa" stroke-width="2"/>
<line x1="413.2" y1="844.9" x2="416.6" y2="848.3" stroke="#9fa5aa" stroke-width="1.5"/>
<line x1="382.9" y1="856.9" x2="382.9" y2="884.9" stroke="#9fa5aa" stroke-width="2"/>
<line x1="423.1" y1="856.9" x2="423.1" y2="884.9" stroke="#9fa5aa" stroke-width="2"/>
<path d="M382.9,890.5 L376.8,901.8 H382.4 L386.6,896.8 H419.4 L423.4,901.8 H428.9 L423.1,890.5" fill="none" stroke="#9fa5aa" stroke-width="2" stroke-linejoin="round"/>
<text x="383.1" y="923.8" font-size="17" fill="#858585" stroke="#ffffff" stroke-width="0.5" textLength="39.3" lengthAdjust="spacingAndGlyphs">CDA</text>
<rect x="543.7" y="829" width="20.1" height="13.5" rx="0" fill="none" stroke="#9fa5aa" stroke-width="2" stroke-linejoin="round"/>
<circle cx="553.7" cy="838.4" r="2.1" fill="none" stroke="#9fa5aa" stroke-width="1.5"/>
<circle cx="559.7" cy="838.4" r="2.1" fill="none" stroke="#9fa5aa" stroke-width="1.5"/>
<rect x="548.6" y="842.5" width="10.8" height="3.9" rx="0" fill="none" stroke="#9fa5aa" stroke-width="1.6" stroke-linejoin="round"/>
<rect x="541.3" y="846.4" width="25.3" height="56.8" rx="4.5" fill="none" stroke="#9fa5aa" stroke-width="2" stroke-linejoin="round"/>
<line x1="553.8" y1="852.2" x2="553.8" y2="884.8" stroke="#9fa5aa" stroke-width="1.9"/>
<path d="M550.5,887.6 L551.5,885.2 H556.1 L557.1,887.6" fill="none" stroke="#9fa5aa" stroke-width="1.6" stroke-linejoin="round"/>
<path d="M548.4,887.6 H559.2 L556.9,896.8 H550.7 Z" fill="none" stroke="#9fa5aa" stroke-width="1.8" stroke-linejoin="round"/>
<line x1="550" y1="890.5" x2="557.6" y2="890.5" stroke="#c5c9cc" stroke-width="0.9"/>
<line x1="550" y1="892.5" x2="557.6" y2="892.5" stroke="#c5c9cc" stroke-width="0.9"/>
<line x1="550" y1="894.5" x2="557.6" y2="894.5" stroke="#c5c9cc" stroke-width="0.9"/>
<path d="M563.8,835.5 L570.8,835.5 L570.8,853.3 L581.6,853.3" fill="none" stroke="#9fa5aa" stroke-width="2" stroke-linejoin="round"/>
<path d="M575.6,856.8 V900 Q575.6,903.2 579,903.2 H597.5 Q600.9,903.2 600.9,900 V849.5 Q600.9,846.1 597.5,846.1 H579 Q575.6,846.1 575.6,849.5" fill="none" stroke="#9fa5aa" stroke-width="2" stroke-linejoin="round"/>
<rect x="581.6" y="850.8" width="8.6" height="5.5" rx="0" fill="none" stroke="#9fa5aa" stroke-width="2" stroke-linejoin="round"/>
<rect x="583" y="856.3" width="6" height="40" rx="0" fill="none" stroke="#9fa5aa" stroke-width="2" stroke-linejoin="round"/>
<text x="536" y="924" font-size="17" fill="#858585" stroke="#ffffff" stroke-width="0.5" textLength="70.8" lengthAdjust="spacingAndGlyphs">DI Water</text>
<line x1="0.6" y1="158.5" x2="649" y2="158.5" stroke="#d2d2d2" stroke-width="1" stroke-dasharray="8.1,2.9"/>
<line x1="0.6" y1="333.5" x2="649" y2="333.5" stroke="#d2d2d2" stroke-width="1" stroke-dasharray="8.1,2.9"/>
<line x1="0.6" y1="486.5" x2="649" y2="486.5" stroke="#d2d2d2" stroke-width="1" stroke-dasharray="8.1,2.9"/>
<line x1="0.6" y1="786.5" x2="649" y2="786.5" stroke="#d2d2d2" stroke-width="1" stroke-dasharray="8.1,2.9"/>
</svg>
</body></html>
